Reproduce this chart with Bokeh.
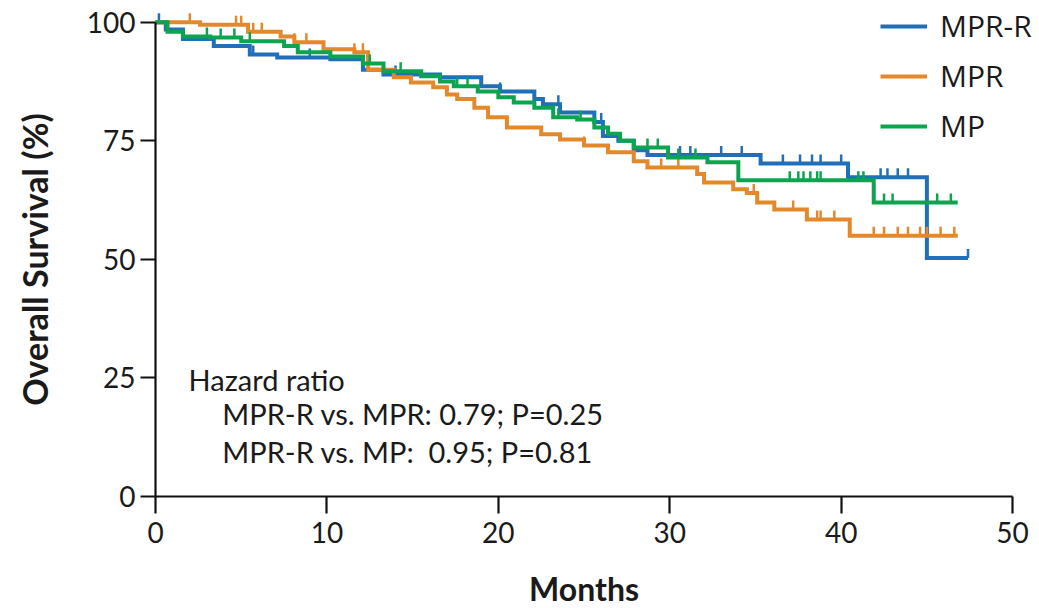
import numpy as np
from bokeh.plotting import figure
from bokeh.models import (Range1d, Legend, LegendItem, Label, FixedTicker, ColumnDataSource,
                          CDSView, IndexFilter)
from bokeh.embed import file_html
from bokeh.resources import INLINE

# ---- data ----
series_names = ["MPR-R", "MPR", "MP"]
series_colors = ["#1f6fba", "#e4892b", "#0ca44f"]

mprr_t = [0, 0.6, 1.6, 3.4, 5.5, 7.1, 10.2, 12.1, 13.3, 16.6, 19.0, 20.1, 22.1, 22.6, 23.6,
          25.6, 26.1, 27.0, 27.9, 28.7, 35.3, 40.4, 45.0]
mprr_s = [100, 98.5, 96.5, 95.0, 93.2, 92.6, 92.2, 90.0, 89.0, 88.4, 86.5, 85.4, 83.8, 82.7, 81.0,
          79.0, 76.0, 75.0, 73.0, 72.0, 70.2, 67.3, 50.3]
mprr_end = 47.4
mprr_cens = [0.2, 5.7, 9.0, 14.0, 20.1, 23.5, 26.0, 30.6, 31.2, 33.0, 34.2, 36.6, 37.6, 38.3,
             38.8, 40.0, 42.3, 42.7, 43.3, 43.9, 47.4]

mpr_t = [0, 2.6, 5.4, 7.3, 8.1, 9.8, 11.6, 12.4, 13.9, 14.9, 16.2, 17.0, 17.6, 18.6, 19.4, 20.5,
         22.5, 23.6, 25.0, 26.4, 27.9, 28.7, 31.6, 32.0, 33.7, 34.5, 35.1, 36.1, 38.0, 40.5]
mpr_s = [100, 99.5, 98.0, 97.0, 95.8, 94.3, 93.7, 90.0, 88.4, 87.3, 86.3, 84.8, 83.8, 82.0, 80.0,
         77.8, 76.4, 75.3, 74.0, 72.6, 70.7, 69.4, 68.0, 66.2, 64.8, 64.0, 62.0, 60.5, 58.4, 55.0]
mpr_end = 46.8
mpr_cens = [2.0, 4.7, 5.0, 5.7, 6.2, 8.1, 8.8, 11.6, 12.1, 25.0, 29.5, 30.5, 34.9, 37.2, 38.6,
            38.8, 39.6, 41.9, 42.5, 43.3, 43.9, 44.6, 45.0, 45.8, 46.6]

mp_t = [0, 0.7, 1.6, 3.2, 5.0, 7.5, 8.3, 10.2, 12.1, 13.3, 15.5, 16.6, 17.4, 18.8, 20.0, 20.9,
        22.1, 23.2, 24.6, 25.6, 26.4, 27.1, 27.9, 29.9, 32.2, 34.0, 41.9]
mp_s = [100, 98.0, 97.0, 96.8, 96.0, 95.0, 93.7, 92.8, 91.3, 89.7, 88.6, 87.5, 86.5, 85.4, 84.2,
        83.1, 82.0, 80.0, 79.5, 77.8, 76.5, 75.0, 73.6, 71.5, 70.5, 66.7, 62.0]
mp_end = 46.8
mp_cens = [3.0, 3.8, 4.6, 5.5, 12.5, 14.3, 17.6, 18.2, 23.5, 24.8, 28.7, 29.3, 30.5, 31.5, 37.0,
           37.5, 37.8, 38.2, 38.6, 38.8, 41.0, 41.3, 42.5, 43.0, 45.6, 46.4]

x_ticks = [0, 10, 20, 30, 40, 50]
y_ticks = [0, 25, 50, 75, 100]

hazard_lines = ["Hazard ratio",
                "MPR-R vs. MPR: 0.79; P=0.25",
                "MPR-R vs. MP:\u00a0 0.95; P=0.81"]

# ---- figure ----
# the frame covers the whole canvas; both axes are pinned at 0 so nothing is clipped
p = figure(width=1039, height=608, x_range=Range1d(-9.043, 51.57), y_range=Range1d(-23.63, 104.6),
           output_backend="svg", toolbar_location=None,
           min_border_left=0, min_border_right=0, min_border_top=0, min_border_bottom=0)
p.grid.visible = False
p.outline_line_color = None

for ax in (p.xaxis[0], p.yaxis[0]):
    ax.axis_line_width = 2.2
    ax.axis_line_color = "#111111"
    ax.major_tick_line_width = 2.2
    ax.major_tick_line_color = "#111111"
    ax.major_tick_in = 0
    ax.minor_tick_line_color = None
    ax.major_label_text_font = "Lato"
    ax.major_label_text_font_size = "28px"
    ax.major_label_text_color = "#1a1a1a"
    ax.axis_label_text_font = "Lato"
    ax.axis_label_text_font_style = "bold"
    ax.axis_label_text_color = "#1a1a1a"

p.xaxis.ticker = FixedTicker(ticks=x_ticks)
p.yaxis.ticker = FixedTicker(ticks=y_ticks)
p.xaxis.bounds = (0, 50)
p.yaxis.bounds = (0, 100)
p.xaxis.fixed_location = 0
p.yaxis.fixed_location = 0
p.xaxis.major_tick_out = 17
p.yaxis.major_tick_out = 15
p.xaxis.major_label_standoff = 9
p.yaxis.major_label_standoff = 5
p.yaxis.axis_label = "Overall Survival (%)"
p.yaxis.axis_label_text_font_size = "34px"
p.yaxis.axis_label_standoff = 29

# x-axis title, centred under the 0-50 axis
p.add_layout(Label(x=25, y=-19.4, text="Months", text_font="Lato", text_font_style="bold",
                   text_font_size="32px", text_color="#1a1a1a",
                   text_align="center", text_baseline="middle"))

items = []
all_series = [(mprr_t, mprr_s, mprr_end, mprr_cens),
              (mpr_t, mpr_s, mpr_end, mpr_cens),
              (mp_t, mp_s, mp_end, mp_cens)]
for name, color, (t, s, end, cens) in zip(series_names, series_colors, all_series):
    xs = list(t) + [end]
    ys = list(s) + [s[-1]]
    r_line = p.step(x=xs, y=ys, mode="after", line_width=4, line_color=color, line_join="miter")
    idx = np.searchsorted(np.array(t), np.array(cens), side="right") - 1
    cy = np.array(s)[idx] + 0.95
    src = ColumnDataSource(data=dict(x=cens, y=cy))
    p.scatter(x="x", y="y", source=src, marker="dash", angle=np.pi / 2, size=9,
              line_color=color, line_width=2.5)
    # legend-only censor mark: same data, but filtered so nothing is drawn on the plot
    r_leg = p.scatter(x="x", y="y", source=src, view=CDSView(filter=IndexFilter(indices=[])),
                      marker="cross", size=11, line_color=color, line_width=2.5)
    items.append(LegendItem(label=name, renderers=[r_line, r_leg]))

legend = Legend(items=items, location=(880, 462), orientation="vertical",
                glyph_width=47, glyph_height=30, label_height=30, label_standoff=13,
                spacing=9, padding=0, margin=0,
                label_text_font="Open Sans", label_text_font_size="30px",
                label_text_color="#1a1a1a",
                border_line_color=None, background_fill_alpha=0)
p.add_layout(legend, "center")

hx = [1.93, 3.9, 3.9]
hy = [24.7, 17.5, 9.5]
for txt, x, y in zip(hazard_lines, hx, hy):
    p.add_layout(Label(x=x, y=y, text=txt, text_font="Lato", text_font_size="29px",
                       text_color="#1a1a1a", text_baseline="middle", text_align="left"))

open("out.html", "w").write(file_html(p, INLINE))
